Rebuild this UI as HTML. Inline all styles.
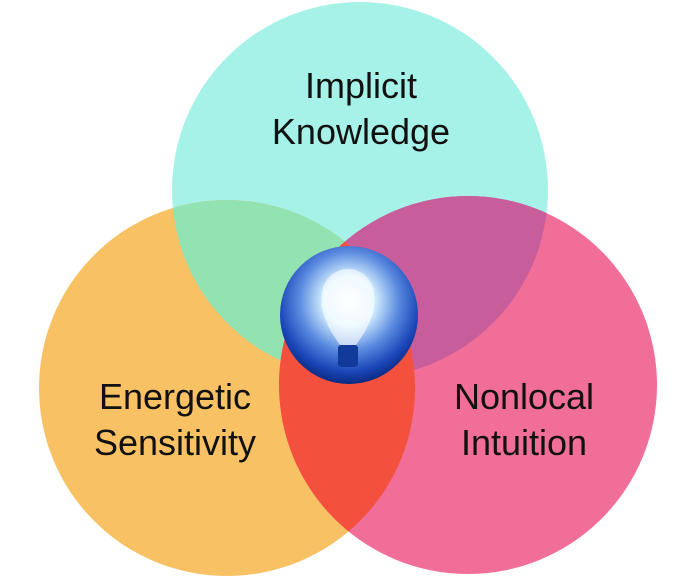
<!DOCTYPE html>
<html><head><style>
html,body{margin:0;padding:0;background:#fff;}
svg{display:block;}
text{font-family:"Liberation Sans",sans-serif;font-size:36px;fill:#111;text-anchor:middle;}
</style></head><body>
<svg width="695" height="578" viewBox="0 0 695 578" xmlns="http://www.w3.org/2000/svg">
<defs>
<clipPath id="cT"><circle cx="360" cy="190" r="188"/></clipPath>
<clipPath id="cL"><circle cx="227" cy="388" r="188"/></clipPath>
<clipPath id="cR"><circle cx="468" cy="385" r="189"/></clipPath>
<radialGradient id="sph" cx="50%" cy="40%" r="60%">
<stop offset="0" stop-color="#ffffff"/>
<stop offset="0.3" stop-color="#d8f2ff"/>
<stop offset="0.6" stop-color="#5a8be0"/>
<stop offset="0.85" stop-color="#1a46b8"/>
<stop offset="1" stop-color="#0a2a80"/>
</radialGradient>
</defs>
<circle cx="360" cy="190" r="188" fill="#a6f2e8"/>
<circle cx="227" cy="388" r="188" fill="#f8c264"/>
<circle cx="468" cy="385" r="189" fill="#f06e97"/>
<g clip-path="url(#cT)"><circle cx="227" cy="388" r="188" fill="#93e2b2"/></g>
<g clip-path="url(#cT)"><circle cx="468" cy="385" r="189" fill="#c75d9a"/></g>
<g clip-path="url(#cL)"><circle cx="468" cy="385" r="189" fill="#f4503e"/></g>
<circle cx="349" cy="315" r="69" fill="url(#sph)"/>
<path d="M340 345 q-22 -30 -18 -50 a26 26 0 1 1 52 0 q4 20 -18 50 z" fill="#ffffff" opacity="0.6"/>
<rect x="338" y="345" width="20" height="22" rx="3" fill="#123a9a"/>
<text x="361" y="98">Implicit</text>
<text x="361" y="144">Knowledge</text>
<text x="175" y="409">Energetic</text>
<text x="175" y="455">Sensitivity</text>
<text x="524" y="409">Nonlocal</text>
<text x="524" y="455">Intuition</text>
</svg>
</body></html>
